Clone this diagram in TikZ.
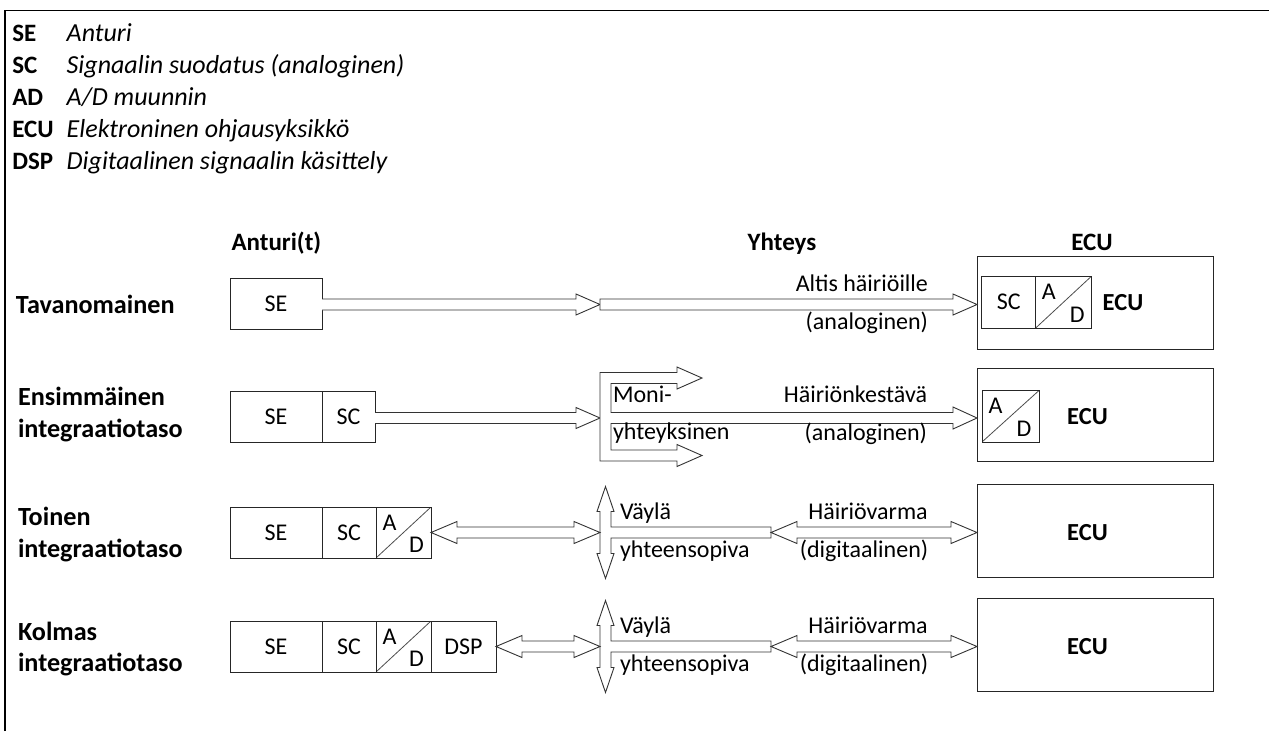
\documentclass[tikz,border=0pt]{standalone}
\usepackage{fontspec}
\setmainfont{Carlito}
\usetikzlibrary{calc}
\newcommand\fs{\fontsize{24}{29}\selectfont}
\newcommand\fsb{\fontsize{25}{30}\selectfont\bfseries}
\newcommand\fsl{\fontsize{26.2}{31.5}\selectfont\bfseries}
\newcommand\fsi{\fontsize{26}{31}\selectfont\itshape}
\newcommand\sarrow[2]{\draw[conn] ($(#1|-#2)+(0,-5.5)$) -- ($(#2)+(-24,-5.5)$) -- ($(#2)+(-24,-10.5)$) -- (#2) -- ($(#2)+(-24,10.5)$) -- ($(#2)+(-24,5.5)$) -- ($(#1|-#2)+(0,5.5)$);}
\newcommand\sarrowc[2]{\draw[conn] ($(#1|-#2)+(0,-5.5)$) -- ($(#2)+(-24,-5.5)$) -- ($(#2)+(-24,-10.5)$) -- (#2) -- ($(#2)+(-24,10.5)$) -- ($(#2)+(-24,5.5)$) -- ($(#1|-#2)+(0,5.5)$) -- cycle;}
\newcommand\darrow[2]{\draw[conn] (#1) -- ($(#1)+(26,-11)$) -- ($(#1)+(26,-5.5)$) -- ($(#2)+(-26,-5.5)$) -- ($(#2)+(-26,-11)$) -- (#2) -- ($(#2)+(-26,11)$) -- ($(#2)+(-26,5.5)$) -- ($(#1)+(26,5.5)$) -- ($(#1)+(26,11)$) -- cycle;}
\newcommand\busshape[2]{\draw[conn] ($(#1)+(0,-46)$) -- ($(#1)+(8.5,-21)$) -- ($(#1)+(5.5,-21)$) -- ($(#1)+(5.5,-5.5)$) -- ($(#2)+(0,-5.5)$) -- ($(#2)+(0,5.5)$) -- ($(#1)+(5.5,5.5)$) -- ($(#1)+(5.5,21)$) -- ($(#1)+(8.5,21)$) -- ($(#1)+(0,46)$) -- ($(#1)+(-8.5,21)$) -- ($(#1)+(-5.5,21)$) -- ($(#1)+(-5.5,-21)$) -- ($(#1)+(-8.5,-21)$) -- cycle;}
\begin{document}
\begin{tikzpicture}[x=1pt,y=-1pt,
  every node/.style={inner sep=0pt,outer sep=0pt,text=black},
  box/.style={draw=black!85,line width=1pt,font=\fs,anchor=north west,minimum height=51},
  ecubox/.style={draw=black!85,line width=1pt,anchor=north west,minimum width=236,minimum height=93},
  adbox/.style={box,minimum width=56,path picture={\draw[black!70,line width=0.8pt] (path picture bounding box.south west) -- (path picture bounding box.north east);}},
  adtxt/.style={font=\fs},
  conn/.style={draw=black!80,line width=0.9pt,fill=white,line join=miter},
  key/.style={anchor=base west,font=\fsb},
  desc/.style={anchor=base west,font=\fsi},
  rowlab/.style={anchor=base west,font=\fsl,align=left},
  head/.style={anchor=base,font=\fsb},
  lab/.style={font=\fs},
  ecutxt/.style={anchor=base,font=\fontsize{24.5}{29}\selectfont\bfseries}]
\useasboundingbox (0,0) rectangle (1269,731);
% frame
\draw[line width=1.3pt] (5,731) -- (5,10.5) -- (1269,10.5);
% legend
\node[key] (kse) at (12.3,41.7) {SE};
\node[desc] (dse) at (66.7,41.7) {Anturi};
\node[key] (ksc) at (12.3,73.5) {SC};
\node[desc] (dsc) at (66.7,73.5) {Signaalin suodatus (analoginen)};
\node[key] (kad) at (12.3,105.3) {AD};
\node[desc] (dad) at (66.7,105.3) {A/D muunnin};
\node[key] (kecu) at (12.3,137.5) {ECU};
\node[desc] (decu) at (66.7,137.5) {Elektroninen ohjausyksikkö};
\node[key] (kdsp) at (12.3,169.3) {DSP};
\node[desc] (ddsp) at (66.7,169.3) {Digitaalinen signaalin käsittely};
% headers
\node[anchor=base west,font=\fsb] (hant) at (231.5,250) {Anturi(t)};
\node[head] (hyht) at (782,250) {Yhteys};
\node[head] (hecu) at (1092,250) {ECU};
% row labels (anchor = baseline of last line)
\node[rowlab] (r1) at (16,313.3) {Tavanomainen};
\node[rowlab] (r2) at (18,437) {Ensimmäinen\\integraatiotaso};
\node[rowlab] (r3) at (18,557.3) {Toinen\\integraatiotaso};
\node[rowlab] (r4) at (18,671.7) {Kolmas\\integraatiotaso};
% ECU boxes
\node[ecubox] (ecu1) at (977,256) {};
\node[ecubox] (ecu2) at (977,368.5) {};
\node[ecubox] (ecu3) at (977,484.5) {};
\node[ecubox] (ecu4) at (977,598.5) {};
% row 1
\node[box,minimum width=92] (se1) at (230,278) {SE};
\node[box,minimum width=54,minimum height=52] (esc1) at (981.7,276) {SC};
\node[adbox,minimum height=52] (ead1) at (esc1.north east) {};
\node[adtxt] (ead1a) at ($(ead1.center)+(-15,-10)$) {A};
\node[adtxt] (ead1d) at ($(ead1.center)+(13.5,12.5)$) {D};
\node[ecutxt] (ecut1) at (1123,310) {ECU};
\coordinate (j1) at (600,304.5);
\coordinate (t1) at (ecu1.west|-j1);
\sarrow{se1.east}{j1}
\sarrowc{j1}{t1}
\node[lab,anchor=base east] (l1a) at (928,291.5) {Altis häiriöille};
\node[lab,anchor=base east] (l1b) at (928,329) {(analoginen)};
% row 2
\node[box,minimum width=92] (se2) at (230,391) {SE};
\node[box,minimum width=53] (sc2) at (se2.north east) {SC};
\node[adbox,minimum width=57,minimum height=51.5] (ead2) at (982,390.5) {};
\node[adtxt] (ead2a) at ($(ead2.center)+(-15,-10)$) {A};
\node[adtxt] (ead2d) at ($(ead2.center)+(13.5,12.5)$) {D};
\node[ecutxt] (ecut2) at (1087.5,424) {ECU};
\coordinate (m2) at (600,418);
\coordinate (t2) at (ecu2.west|-m2);
\sarrow{sc2.east}{m2}
\draw[conn] (m2|-0,372.5) -- (677,372.5) -- (677,367) -- (702,378) -- (677,389) -- (677,383.5) -- (611,383.5)
  -- ($(611,0|-t2)+(0,-5.5)$) -- ($(t2)+(-24,-5.5)$) -- ($(t2)+(-24,-11)$) -- (t2) -- ($(t2)+(-24,11)$) -- ($(t2)+(-24,5.5)$) -- ($(611,0|-t2)+(0,5.5)$)
  -- (611,450) -- (677,450) -- (677,444.5) -- (702,455.5) -- (677,466.5) -- (677,461) -- (m2|-0,461) -- cycle;
\node[lab,anchor=base west] (l2m) at (613,402.7) {Moni-};
\node[lab,anchor=base west] (l2y) at (613,439) {yhteyksinen};
\node[lab,anchor=base east] (l2a) at (927,402.7) {Häiriönkestävä};
\node[lab,anchor=base east] (l2b) at (927,440) {(analoginen)};
% row 3
\node[box,minimum width=92] (se3) at (230,507) {SE};
\node[box,minimum width=54] (sc3) at (se3.north east) {SC};
\node[adbox,minimum width=55] (ad3) at (sc3.north east) {};
\node[adtxt] (ad3a) at ($(ad3.center)+(-14,-10)$) {A};
\node[adtxt] (ad3d) at ($(ad3.center)+(13,12.5)$) {D};
\node[ecutxt] (ecut3) at (1087.5,540) {ECU};
\coordinate (b3) at (605.5,532.5);
\coordinate (s3) at (771,532.5);
\coordinate (a3) at (ad3.east|-b3);
\coordinate (bl3) at (600,532.5);
\coordinate (t3) at (ecu3.west|-b3);
\busshape{b3}{s3}
\darrow{a3}{bl3}
\darrow{s3}{t3}
\node[lab,anchor=base west] (l3v) at (620,519) {Väylä};
\node[lab,anchor=base west] (l3y) at (620,557) {yhteensopiva};
\node[lab,anchor=base] (l3h) at (868,519) {Häiriövarma};
\node[lab,anchor=base] (l3d) at (864,557) {(digitaalinen)};
% row 4
\node[box,minimum width=92] (se4) at (230,621) {SE};
\node[box,minimum width=54] (sc4) at (se4.north east) {SC};
\node[adbox,minimum width=55] (ad4) at (sc4.north east) {};
\node[adtxt] (ad4a) at ($(ad4.center)+(-14,-10)$) {A};
\node[adtxt] (ad4d) at ($(ad4.center)+(13,12.5)$) {D};
\node[box,minimum width=65] (dsp4) at (ad4.north east) {DSP};
\node[ecutxt] (ecut4) at (1087.5,654) {ECU};
\coordinate (b4) at (605.5,646.5);
\coordinate (s4) at (771,646.5);
\coordinate (a4) at (dsp4.east|-b4);
\coordinate (bl4) at (600,646.5);
\coordinate (t4) at (ecu4.west|-b4);
\busshape{b4}{s4}
\darrow{a4}{bl4}
\darrow{s4}{t4}
\node[lab,anchor=base west] (l4v) at (620,633) {Väylä};
\node[lab,anchor=base west] (l4y) at (620,671) {yhteensopiva};
\node[lab,anchor=base] (l4h) at (868,633) {Häiriövarma};
\node[lab,anchor=base] (l4d) at (864,671) {(digitaalinen)};
\end{tikzpicture}
\end{document}
